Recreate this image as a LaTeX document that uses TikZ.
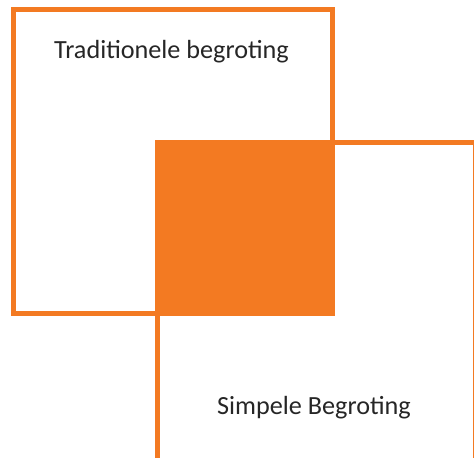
\documentclass[tikz,border=0pt]{standalone}
\usepackage{fontspec}
\setmainfont{Carlito}
\definecolor{vorange}{RGB}{243,122,34}
\begin{document}
\begin{tikzpicture}[x=1bp,y=-1bp,
  frame/.style={draw=vorange,line width=5bp},
  lbl/.style={inner sep=0pt,anchor=base west,text=black!85,font=\fontsize{26.3}{30}\selectfont}]
\useasboundingbox (0,0) rectangle (474,458);
\clip (0,0) rectangle (474,458);
\fill[vorange] (154.5,140.5) rectangle (334.5,316);
\draw[frame] (13.5,10) rectangle (332,313.5);
\draw[frame] (157,143) rectangle (475.5,480);
\node[lbl] (t1) at (54,59) {Traditionele begroting};
\node[lbl] (t2) at (217,414) {Simpele Begroting};
\end{tikzpicture}
\end{document}
